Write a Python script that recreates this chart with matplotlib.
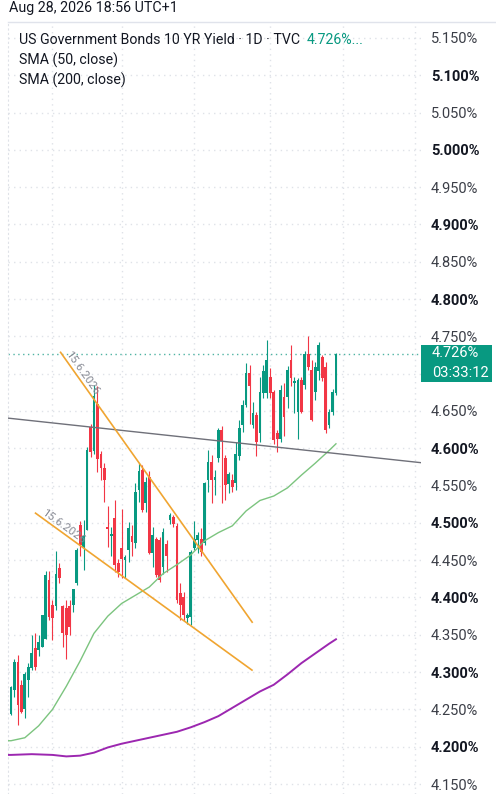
import numpy as np
import matplotlib
matplotlib.use("Agg")
import matplotlib.pyplot as plt
from matplotlib.patches import Rectangle

plt.rcParams['font.family'] = ['Roboto', 'DejaVu Sans']

# daily candles (US 10Y yield, %), oldest first
opens = [4.244, 4.276, 4.314, 4.283, 4.251, 4.289, 4.305, 4.332, 4.330, 4.334,
         4.345, 4.424, 4.390, 4.388, 4.439, 4.388, 4.386, 4.388, 4.390, 4.419,
         4.497, 4.468, 4.491, 4.628, 4.596, 4.660, 4.593, 4.573, 4.495, 4.482,
         4.506, 4.446, 4.466, 4.450, 4.463, 4.482, 4.473, 4.544, 4.571, 4.526,
         4.562, 4.459, 4.479, 4.477, 4.441, 4.472, 4.504, 4.508, 4.496, 4.406,
         4.401, 4.372, 4.374, 4.466, 4.477, 4.479, 4.473, 4.557, 4.582, 4.557,
         4.587, 4.625, 4.587, 4.552, 4.557, 4.553, 4.589, 4.631, 4.658, 4.701,
         4.631, 4.645, 4.620, 4.674, 4.674, 4.696, 4.676, 4.620, 4.613, 4.669,
         4.669, 4.718, 4.688, 4.649, 4.692, 4.685, 4.727, 4.705, 4.676, 4.703,
         4.723, 4.709, 4.631, 4.649, 4.674]
highs = [4.282, 4.318, 4.323, 4.289, 4.300, 4.312, 4.350, 4.352, 4.350, 4.377,
         4.435, 4.435, 4.397, 4.462, 4.446, 4.390, 4.397, 4.397, 4.412, 4.466,
         4.502, 4.504, 4.602, 4.632, 4.685, 4.683, 4.596, 4.580, 4.522, 4.495,
         4.531, 4.452, 4.519, 4.457, 4.501, 4.497, 4.553, 4.580, 4.578, 4.562,
         4.569, 4.495, 4.481, 4.481, 4.493, 4.477, 4.513, 4.510, 4.500, 4.419,
         4.408, 4.379, 4.464, 4.502, 4.488, 4.493, 4.555, 4.598, 4.591, 4.571,
         4.627, 4.630, 4.591, 4.568, 4.566, 4.609, 4.638, 4.665, 4.714, 4.712,
         4.662, 4.648, 4.696, 4.712, 4.745, 4.707, 4.678, 4.625, 4.685, 4.687,
         4.710, 4.738, 4.696, 4.694, 4.696, 4.731, 4.750, 4.718, 4.716, 4.743,
         4.725, 4.716, 4.653, 4.680, 4.728]
lows = [4.242, 4.267, 4.229, 4.245, 4.238, 4.267, 4.303, 4.303, 4.321, 4.334,
        4.345, 4.370, 4.343, 4.383, 4.419, 4.334, 4.318, 4.350, 4.381, 4.417,
        4.455, 4.437, 4.490, 4.588, 4.593, 4.568, 4.558, 4.528, 4.468, 4.455,
        4.434, 4.428, 4.426, 4.426, 4.448, 4.455, 4.466, 4.528, 4.515, 4.515,
        4.458, 4.441, 4.428, 4.421, 4.432, 4.434, 4.499, 4.495, 4.392, 4.370,
        4.368, 4.365, 4.363, 4.464, 4.459, 4.455, 4.470, 4.542, 4.526, 4.537,
        4.582, 4.526, 4.531, 4.540, 4.541, 4.544, 4.584, 4.622, 4.656, 4.633,
        4.627, 4.589, 4.609, 4.668, 4.667, 4.668, 4.606, 4.595, 4.609, 4.616,
        4.654, 4.683, 4.647, 4.613, 4.647, 4.680, 4.705, 4.636, 4.665, 4.692,
        4.690, 4.620, 4.627, 4.645, 4.672]
closes = [4.280, 4.314, 4.256, 4.247, 4.298, 4.307, 4.325, 4.307, 4.341, 4.377,
          4.430, 4.374, 4.372, 4.432, 4.426, 4.352, 4.350, 4.361, 4.412, 4.464,
          4.470, 4.483, 4.598, 4.595, 4.670, 4.586, 4.573, 4.557, 4.492, 4.485,
          4.443, 4.434, 4.452, 4.454, 4.493, 4.475, 4.542, 4.569, 4.517, 4.555,
          4.459, 4.484, 4.430, 4.423, 4.488, 4.455, 4.510, 4.499, 4.397, 4.390,
          4.376, 4.377, 4.461, 4.479, 4.484, 4.461, 4.553, 4.582, 4.557, 4.562,
          4.624, 4.610, 4.551, 4.566, 4.548, 4.593, 4.627, 4.658, 4.701, 4.683,
          4.647, 4.609, 4.676, 4.703, 4.718, 4.674, 4.611, 4.613, 4.678, 4.642,
          4.705, 4.694, 4.690, 4.692, 4.649, 4.727, 4.709, 4.638, 4.709, 4.738,
          4.694, 4.625, 4.649, 4.676, 4.726]

# moving averages, sampled at candle numbers
sma50_x = [-1, 0, 4, 8, 12, 16, 20, 24, 28, 32, 36, 40, 44, 48, 52, 56, 60,
           64, 68, 72, 76, 80, 84, 88, 92, 94]
sma50_y = [4.208, 4.208, 4.212, 4.228, 4.250, 4.281, 4.315, 4.352, 4.375,
           4.392, 4.403, 4.414, 4.432, 4.444, 4.457, 4.476, 4.487, 4.496,
           4.516, 4.530, 4.536, 4.547, 4.564, 4.580, 4.597, 4.606]
sma200_x = [-1, 0, 6, 12, 16, 20, 24, 28, 32, 36, 40, 44, 48, 52, 56, 60, 64,
            68, 72, 76, 80, 84, 88, 92, 94]
sma200_y = [4.189, 4.189, 4.190, 4.189, 4.187, 4.188, 4.192, 4.199, 4.204,
            4.208, 4.212, 4.216, 4.220, 4.226, 4.233, 4.241, 4.252, 4.263,
            4.274, 4.283, 4.297, 4.312, 4.325, 4.338, 4.344]

# drawings: (candle, price) anchors
trend_pts = [(0, 4.640), (94, 4.593)]
wedge_top = [(14.2, 4.7295), (69.9, 4.366)]
wedge_bottom = [(6.9, 4.5137), (69.9, 4.302)]
wedge_label = "15.6.2026"

last_price = 4.726
countdown = "03:33:12"
month_ticks = [12, 32, 53, 75, 96, 117]
price_ticks = ["4.150", "4.200", "4.250", "4.300", "4.350", "4.400", "4.450",
               "4.500", "4.550", "4.600", "4.650", "4.700", "4.750", "4.800",
               "4.850", "4.900", "4.950", "5.000", "5.050", "5.100", "5.150"]

GREEN = '#089981'
RED = '#f23645'
GRID = '#dfe2e8'

W, H = 496, 794
fig = plt.figure(figsize=(W / 100, H / 100), dpi=100)
ax = fig.add_axes([8 / W, 0, (421 - 8) / W, (H - 22) / H])
ax.set_xlim(-0.87, 118.6)
ax.set_ylim(4.1366, 5.1714)

idx = np.arange(len(closes))
o = np.array(opens)
c = np.array(closes)
cols = np.where(c >= o, GREEN, RED)
ax.vlines(idx, lows, highs, colors=cols, linewidth=0.8, zorder=3)
ax.bar(idx, np.maximum(np.abs(c - o), 0.0015), bottom=np.minimum(o, c),
       width=0.8, color=cols, linewidth=0, zorder=4)

ax.plot(sma50_x, sma50_y, color='#7cc47f', lw=1.0, zorder=5)
ax.plot(sma200_x, sma200_y, color='#9c27b0', lw=1.4, zorder=5)

ax.axline(trend_pts[0], trend_pts[1], color='#6f7079', lw=1.0, zorder=6)
for line in (wedge_top, wedge_bottom):
    (x0, y0), (x1, y1) = line
    ax.plot([x0, x1], [y0, y1], color='#f0a531', lw=1.2, zorder=6,
            solid_capstyle='butt')
    p0 = ax.transData.transform((x0, y0))
    p1 = ax.transData.transform((x1, y1))
    ang = np.degrees(np.arctan2(p1[1] - p0[1], p1[0] - p0[0]))
    ax.annotate(wedge_label, (x0, y0), xytext=(6 * np.cos(np.radians(ang)),
                6 * np.sin(np.radians(ang)) + 1), textcoords='offset pixels',
                rotation=ang, rotation_mode='anchor', ha='left', va='bottom',
                fontsize=8.2, color='#868993', zorder=7)

ax.axhline(last_price, color='#4fb3a3', lw=1.0, linestyle=(0, (1, 2.5)),
           zorder=2)

# grid
ax.set_xticks(month_ticks)
ax.set_xticklabels([])
tick_vals = [float(t) for t in price_ticks]
ax.set_yticks(tick_vals)
ax.set_yticklabels([t + '%' if abs(v - 4.70) > 1e-9 else ''
                    for t, v in zip(price_ticks, tick_vals)])
ax.yaxis.tick_right()
ax.tick_params(axis='both', length=0)
ax.tick_params(axis='y', pad=7.2, labelsize=10.5, labelcolor='#3b3e47')
for lbl, v in zip(ax.get_yticklabels(), tick_vals):
    if round(v * 100) % 10 == 0:
        lbl.set_fontweight('bold')
        lbl.set_color('#131722')
ax.grid(True, color=GRID, lw=1.0, linestyle=(0, (1, 3)))
ax.set_axisbelow(True)
for s in ('top', 'right', 'bottom'):
    ax.spines[s].set_visible(False)
ax.spines['left'].set_color(GRID)
ax.spines['left'].set_linestyle((0, (1, 3)))
ax.set_facecolor('white')

# last price tag
tr = ax.get_yaxis_transform()
ax.add_patch(Rectangle((1.0, last_price - 0.0371), 0.172, 0.0496,
                       transform=tr, facecolor=GREEN, edgecolor='none',
                       clip_on=False, zorder=10))
ax.text(1.026, last_price + 0.002, f'{last_price:.3f}%', transform=tr,
        color='white', fontsize=10.5, va='center', ha='left', zorder=11)
ax.text(1.026, last_price - 0.025, countdown, transform=tr,
        color='white', fontsize=10.5, va='center', ha='left', zorder=11)

# header + legend
fig.add_artist(plt.Line2D([8 / W, 1], [1 - 22 / H, 1 - 22 / H],
                          color='#e0e3eb', lw=1.0))
fig.text(9 / W, 1 - 8 / H, 'Aug 28, 2026 18:56 UTC+1', fontsize=10.3,
         color='#131722', va='center', ha='left')
t1 = fig.text(19 / W, 1 - 40 / H, 'US Government Bonds 10 YR Yield · 1D · TVC',
              fontsize=10.2, color='#131722', va='center', ha='left')
fig.canvas.draw()
bb = t1.get_window_extent()
fig.text((bb.x1 + 7) / W, 1 - 40 / H, f'{last_price:.3f}%...', fontsize=10.2,
         color=GREEN, va='center', ha='left')
fig.text(19 / W, 1 - 60 / H, 'SMA (50, close)', fontsize=10.2,
         color='#131722', va='center', ha='left')
fig.text(19 / W, 1 - 80 / H, 'SMA (200, close)', fontsize=10.2,
         color='#131722', va='center', ha='left')

fig.savefig('out.png', dpi=100, facecolor='white')
